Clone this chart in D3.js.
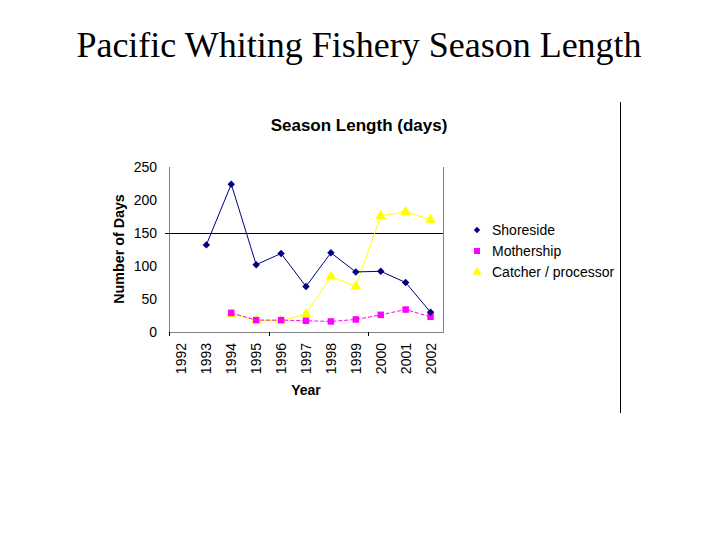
<!DOCTYPE html>
<html><head><meta charset="utf-8">
<script src="https://cdn.jsdelivr.net/npm/d3@7"></script>
<style>body{margin:0;background:#fff}</style>
</head><body>
<svg id="c" width="720" height="540"></svg>
<script>
const years = ["1992","1993","1994","1995","1996","1997","1998","1999","2000","2001","2002"];
const shoreside = [null,132,224,102,119,69,120,91,92,75,30];
const mothership = [null,null,29,18,18,17,16,19,26,34,23];
const catcher = [null,null,27,18,17,27,84,69,176,182,170];
const yTicks = [0,50,100,150,200,250];
const seriesNames = ["Shoreside","Mothership","Catcher / processor"];

const svg = d3.select("#c");
const L=169,R=443,T=167,B=332;
const x = d3.scaleBand().domain(years).range([L,R]);
const y = d3.scaleLinear().domain([0,250]).range([B,T]);
const cx = d => x(d)+x.bandwidth()/2;
const sans = "Liberation Sans, Arial, sans-serif";

svg.append("text").attr("x",359).attr("y",57).attr("text-anchor","middle")
  .attr("font-family","Liberation Serif, Times New Roman, serif").attr("font-size",36).text("Pacific Whiting Fishery Season Length");
svg.append("text").attr("x",359).attr("y",131).attr("text-anchor","middle")
  .attr("font-family",sans).attr("font-weight","bold").attr("font-size",17).text("Season Length (days)");

// frame
svg.append("path").attr("d",`M${L+0.5},${T}V${B+0.5}H${R+0.5}V${T}`).attr("fill","none").attr("stroke","#808080").attr("stroke-width",1);
// x tick marks
[0,4,8].forEach(i=>{ const xx = Math.round(L + i*x.step())+0.5; svg.append("line").attr("x1",xx).attr("x2",xx).attr("y1",B).attr("y2",B+4).attr("stroke","#000"); });
// 150 reference line
svg.append("line").attr("x1",165).attr("x2",R).attr("y1",Math.round(y(150))+0.5).attr("y2",Math.round(y(150))+0.5).attr("stroke","#000").attr("stroke-width",1);

// y tick labels
svg.append("g").selectAll("text").data(yTicks).join("text")
  .attr("x",157).attr("y",d=>y(d)+5).attr("text-anchor","end")
  .attr("font-family",sans).attr("font-size",14).text(d=>d);
// x labels
svg.append("g").selectAll("text").data(years).join("text")
  .attr("transform",d=>`translate(${cx(d)+5},343) rotate(-90)`).attr("text-anchor","end")
  .attr("font-family",sans).attr("font-size",14).text(d=>d);
svg.append("text").attr("x",306).attr("y",395).attr("text-anchor","middle")
  .attr("font-family",sans).attr("font-weight","bold").attr("font-size",14).text("Year");
svg.append("text").attr("transform",`translate(124,249) rotate(-90)`).attr("text-anchor","middle")
  .attr("font-family",sans).attr("font-weight","bold").attr("font-size",14.3).text("Number of Days");

const line = d3.line().defined(d=>d[1]!=null).x(d=>cx(d[0])).y(d=>y(d[1]));
function pts(arr){ return years.map((yr,i)=>[yr,arr[i]]); }

const diamond = d3.symbol().type(d3.symbolSquare).size(28);
const square = d3.symbol().type(d3.symbolSquare).size(42);
const tri = d3.symbol().type(d3.symbolTriangle).size(48);

svg.append("path").attr("d",line(pts(catcher))).attr("fill","none").attr("stroke","#ffff00").attr("stroke-width",1);
svg.append("path").attr("d",line(pts(mothership))).attr("fill","none").attr("stroke","#ff00ff").attr("stroke-width",1).attr("stroke-dasharray","4,2");
svg.append("path").attr("d",line(pts(shoreside))).attr("fill","none").attr("stroke","#000080").attr("stroke-width",1);

svg.append("g").selectAll("path").data(pts(catcher).filter(d=>d[1]!=null)).join("path")
  .attr("transform",d=>`translate(${cx(d[0])},${y(d[1])})`).attr("d",tri).attr("fill","#ffff00");
svg.append("g").selectAll("path").data(pts(mothership).filter(d=>d[1]!=null)).join("path")
  .attr("transform",d=>`translate(${cx(d[0])},${y(d[1])})`).attr("d",square).attr("fill","#ff00ff");
svg.append("g").selectAll("path").data(pts(shoreside).filter(d=>d[1]!=null)).join("path")
  .attr("transform",d=>`translate(${cx(d[0])},${y(d[1])}) rotate(45)`).attr("d",diamond).attr("fill","#000080");

// legend
const colors=["#000080","#ff00ff","#ffff00"];
const syms=[d3.symbol().type(d3.symbolSquare).size(20),d3.symbol().type(d3.symbolSquare).size(36),d3.symbol().type(d3.symbolTriangle).size(36)];
const lg = svg.append("g").selectAll("g").data(seriesNames).join("g").attr("transform",(d,i)=>`translate(477,${230+i*21})`);
lg.append("path").attr("d",(d,i)=>syms[i]()).attr("fill",(d,i)=>colors[i]).attr("transform",(d,i)=>i===0?"rotate(45)":null);
lg.append("text").attr("x",15).attr("y",5).attr("font-family",sans).attr("font-size",14).text(d=>d);

svg.append("line").attr("x1",620.5).attr("x2",620.5).attr("y1",102).attr("y2",413).attr("stroke","#000");
</script>
</body></html>
